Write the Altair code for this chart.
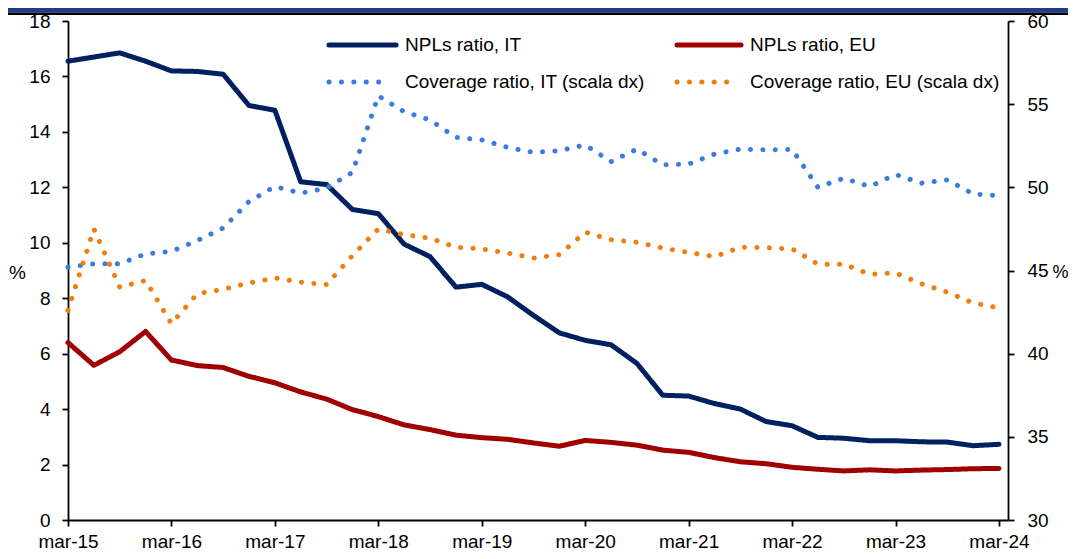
import json
import altair as alt
import pandas as pd

tick_labels = ["mar-15", "mar-16", "mar-17", "mar-18", "mar-19",
               "mar-20", "mar-21", "mar-22", "mar-23", "mar-24"]

series_names = ["NPLs ratio, IT", "NPLs ratio, EU",
                "Coverage ratio, IT (scala dx)", "Coverage ratio, EU (scala dx)"]
series_colors = ["#002060", "#A00000", "#3B7DDD", "#F07D10"]

# quarterly values, mar-15 ... mar-24 (37 quarters)
npl_it = [16.55, 16.7, 16.85, 16.55, 16.2, 16.18, 16.08, 14.95, 14.78, 12.2,
          12.1, 11.2, 11.05, 9.95, 9.5, 8.4, 8.5, 8.05, 7.38, 6.75,
          6.48, 6.32, 5.65, 4.5, 4.47, 4.2, 4.0, 3.55, 3.4, 2.98,
          2.95, 2.86, 2.86, 2.82, 2.81, 2.68, 2.73]
npl_eu = [6.4, 5.58, 6.07, 6.8, 5.77, 5.57, 5.5, 5.18, 4.95, 4.62,
          4.36, 3.98, 3.73, 3.43, 3.26, 3.06, 2.97, 2.91, 2.78, 2.66,
          2.87, 2.8, 2.7, 2.52, 2.44, 2.25, 2.1, 2.03, 1.9, 1.83,
          1.77, 1.81, 1.77, 1.8, 1.82, 1.85, 1.86]
cov_it = [45.2, 45.4, 45.4, 46.0, 46.15, 46.8, 47.55, 49.15, 50.05, 49.65,
          49.95, 50.9, 55.5, 54.55, 54.05, 53.0, 52.85, 52.4, 52.1, 52.2,
          52.55, 51.55, 52.3, 51.35, 51.4, 52.0, 52.3, 52.25, 52.28, 50.0,
          50.55, 50.05, 50.77, 50.25, 50.45, 49.6, 49.5]
cov_eu = [42.6, 47.5, 44.0, 44.4, 41.8, 43.6, 43.87, 44.25, 44.55, 44.3,
          44.15, 45.9, 47.5, 47.15, 46.95, 46.4, 46.3, 46.05, 45.75, 45.95,
          47.3, 46.85, 46.7, 46.35, 46.09, 45.83, 46.4, 46.37, 46.3, 45.38,
          45.38, 44.78, 44.85, 44.2, 43.7, 43.05, 42.75]

rows = []
for name, vals in zip(series_names, [npl_it, npl_eu, cov_it, cov_eu]):
    for i, v in enumerate(vals):
        rows.append({"q": i, "value": v, "series": name})
df = pd.DataFrame(rows)
df_left = df[df["series"].isin(series_names[:2])]
df_right = df[df["series"].isin(series_names[2:])]

FONT = "Liberation Sans"
FS = 19
W, H = 940, 499
DOT = [0.1, 12.3]

color_scale = alt.Scale(domain=series_names, range=series_colors)
dash_scale = alt.Scale(domain=series_names,
                       range=[[1, 0], [1, 0], DOT, DOT])

axis_style = dict(grid=False, domainColor="black", domainWidth=1.8,
                  tickColor="black", tickWidth=1.8, tickSize=6,
                  labelFont=FONT, labelFontSize=FS, labelColor="black")
title_style = dict(titleAngle=0, titleAlign="center", titleBaseline="middle",
                   titleFont=FONT, titleFontWeight="normal",
                   titleColor="black")

x_enc = alt.X(
    "q:Q",
    scale=alt.Scale(domain=[0, 36.35], nice=False, zero=False),
    axis=alt.Axis(
        values=list(range(0, 37, 4)),
        labelExpr=f"{json.dumps(tick_labels)}[round(datum.value/4)]",
        title=None, labelPadding=6, labelBaseline="top", labelFlush=False,
        labelBound=False, labelOverlap=False, **axis_style,
    ),
)

left = alt.Chart(df_left).mark_line(
    strokeWidth=5, strokeCap="round", strokeJoin="round"
).encode(
    x=x_enc,
    y=alt.Y("value:Q", scale=alt.Scale(domain=[0, 18], nice=False),
            axis=alt.Axis(values=list(range(0, 19, 2)), orient="left",
                          title="%", titleX=-51, titleY=251, titleFontSize=FS,
                          labelPadding=12, **title_style, **axis_style)),
    color=alt.Color("series:N", scale=color_scale, legend=None),
    strokeDash=alt.StrokeDash("series:N", scale=dash_scale, legend=None),
)

right = alt.Chart(df_right).mark_line(
    strokeWidth=5, strokeCap="round", strokeJoin="round"
).encode(
    x=x_enc,
    y=alt.Y("value:Q", scale=alt.Scale(domain=[30, 60], nice=False, zero=False),
            axis=alt.Axis(values=list(range(30, 61, 5)), orient="right",
                          title="%", titleX=52, titleY=251, titleFontSize=18,
                          labelPadding=13, **title_style, **axis_style)),
    color=alt.Color("series:N", scale=color_scale, legend=None),
    strokeDash=alt.StrokeDash("series:N", scale=dash_scale, legend=None),
)

one = pd.DataFrame({"a": [0]})

# manual legend (pixel positions relative to the plot area)
legend_layout = [
    # (symbol x1, symbol x2, y, label x, dotted)
    (261, 328, 24, 337, False),
    (609, 673, 24, 682, False),
    (261, 323, 61, 337, True),
    (609, 671, 61, 682, True),
]
legend_layers = []
for name, color, (x1, x2, yy, lx, dotted) in zip(series_names, series_colors, legend_layout):
    rule_kw = dict(color=color, strokeCap="round", strokeWidth=5)
    if dotted:
        rule_kw["strokeDash"] = DOT
    legend_layers.append(
        alt.Chart(one).mark_rule(**rule_kw).encode(
            x=alt.value(x1), x2=alt.value(x2), y=alt.value(yy)))
    legend_layers.append(
        alt.Chart(one).mark_text(align="left", baseline="middle", font=FONT,
                                 fontSize=FS, color="black").encode(
            x=alt.value(lx), y=alt.value(yy), text=alt.value(name)))

header_blue = alt.Chart(one).mark_rect(color="#1F3B8E").encode(
    x=alt.value(-60), x2=alt.value(1000), y=alt.value(-13), y2=alt.value(-8.5))
header_black = alt.Chart(one).mark_rect(color="#000000").encode(
    x=alt.value(-60), x2=alt.value(1000), y=alt.value(-8.5), y2=alt.value(-6))

chart = alt.layer(header_blue, header_black, left, right, *legend_layers).resolve_scale(
    y="independent"
).properties(
    width=W, height=H,
    autosize=alt.AutoSizeParams(type="none"),
    padding={"left": 60, "top": 13, "right": 60, "bottom": 31},
    background="white",
).configure_view(stroke=None)

chart.save("out.html", embed_options={"renderer": "svg", "actions": False})
